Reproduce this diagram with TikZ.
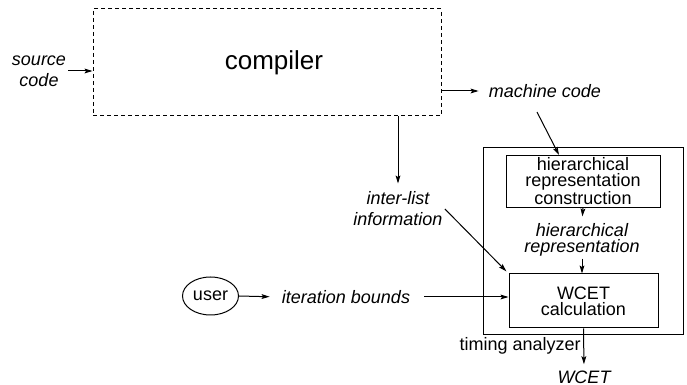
\documentclass[tikz,border=0pt]{standalone}
\usepackage{fontspec}
\setmainfont{Liberation Sans}
\usepackage{tikz}
\usetikzlibrary{arrows.meta,shapes.geometric,calc}
\tikzset{
  grp/.style={draw, line width=0.5pt, inner sep=0pt},
  blk/.style={draw, line width=0.5pt, inner sep=0pt, align=center, font=\fontsize{9}{7.6}\selectfont},
  lab/.style={font=\fontsize{9}{10.5}\selectfont\itshape, align=center, inner sep=1pt},
  arr/.style={line width=0.5pt, -{Stealth[length=4pt,width=2.4pt,inset=0.8pt]}},
  every node/.style={text=black}
}

\begin{document}
\begin{tikzpicture}[x=0.5pt,y=-0.5pt]
  \useasboundingbox (0,0) rectangle (687,385);

  % compiler part
  \node[grp, dash pattern=on 2pt off 1.5pt, minimum width=174pt, minimum height=53.5pt,
        font=\fontsize{13}{15}\selectfont] (compiler) at (267,62.5) {\hspace*{7pt}compiler};
  \node[lab] (src) at (39,71) {source\\code};
  \node[lab] (mcode) at (545,91) {machine code};
  \node[lab] (il) at (398,209) {inter-list\\information};

  % timing analyzer
  \node[grp, minimum width=100pt, minimum height=93.5pt] (ta) at (583,241.5) {};
  \node[blk, minimum width=77pt, minimum height=26pt] (hrc) at (583,181.5)
    {hierarchical\\representation\\construction};
  \node[lab, font=\fontsize{9}{7.8}\selectfont\itshape] (hr) at (582,240)
    {hierarchical\\representation};
  \node[blk, minimum width=74.5pt, minimum height=27pt, font=\fontsize{9}{8}\selectfont]
    (wcet) at (583.5,301) {WCET\\calculation};
  \node[anchor=north east, inner sep=1pt, font=\fontsize{9}{10}\selectfont] (tan) at (ta.south)
    {timing analyzer};
  \node[lab] (wl) at (584,377) {WCET};

  % user input
  \node[draw, ellipse, line width=0.5pt, minimum width=28pt, minimum height=19pt, inner sep=0pt,
        font=\fontsize{9}{10}\selectfont] (user) at (210.5,296) {user};
  \node[lab] (ib) at (346,297) {iteration bounds};

  \draw[arr] (src.east) -- (src.east -| compiler.west);
  \draw[arr, shorten >=4pt] (compiler.east |- mcode.west) -- (mcode.west);
  \draw[arr, shorten >=3pt] (il.north |- compiler.south) -- (il.north);
  \draw[arr] ([shift={(-8,12)}]mcode.south) -- ([xshift=-12pt]hrc.north);
  \draw[arr, shorten >=2.5pt] (hrc.south) -- (hr.north);
  \draw[arr] (hr.south) -- (hr.south |- wcet.north);
  \draw[arr, shorten >=1.5pt] (il.east) -- (wcet.north west);
  \draw[arr, shorten >=5pt] (user.east) -- (ib.west);
  \draw[arr, shorten <=6pt] (ib.east) -- (ib.east -| wcet.west);
  \draw[arr, shorten >=2pt] (wcet.south) -- (wl.north);
\end{tikzpicture}
\end{document}
